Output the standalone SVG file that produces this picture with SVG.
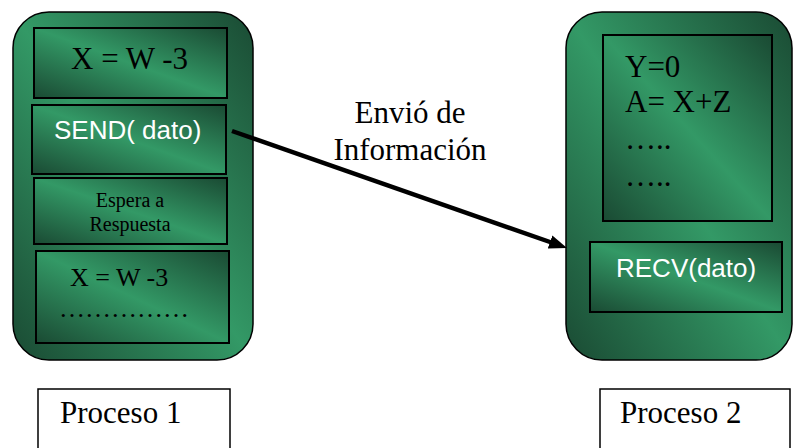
<svg xmlns="http://www.w3.org/2000/svg" width="793" height="448" viewBox="0 0 793 448">
  <defs>
    <!-- diagonal green shading: dark corners, light centre band -->
    <linearGradient id="green" x1="1" y1="0" x2="0" y2="1">
      <stop offset="0" stop-color="#1a4a33"/>
      <stop offset="0.5" stop-color="#339966"/>
      <stop offset="1" stop-color="#1a4a33"/>
    </linearGradient>
    <marker id="head" viewBox="0 0 18 14" refX="6" refY="7" markerWidth="18" markerHeight="14" markerUnits="userSpaceOnUse" orient="auto">
      <path d="M0,0 L18,7 L0,14 z" fill="#000"/>
    </marker>
    <style>
      .proc { fill: url(#green); stroke: #000; stroke-width: 1.5; }
      .step { fill: url(#green); stroke: #000; stroke-width: 2; }
      .label { fill: #fff; stroke: #000; stroke-width: 1.5; }
      .serif { font-family: "Liberation Serif", "Times New Roman", serif; fill: #000; }
      .sans { font-family: "Liberation Sans", Arial, sans-serif; fill: #fff; font-size: 26px; }
      .big { font-size: 31px; }
      .mid { font-size: 26px; }
      .small { font-size: 20px; }
    </style>
  </defs>

  <!-- Proceso 1 -->
  <g id="proceso1">
    <rect class="proc" x="13" y="12" width="240" height="348" rx="36" ry="36"/>
    <g id="p1-asignacion">
      <rect class="step" x="34" y="28" width="193" height="70"/>
      <text class="serif big" x="71" y="69">X = W -3</text>
    </g>
    <g id="p1-send">
      <rect class="step" x="32" y="105" width="194" height="69"/>
      <text class="sans" x="54" y="139">SEND( dato)</text>
    </g>
    <g id="p1-espera">
      <rect class="step" x="34" y="178" width="193" height="66"/>
      <text class="serif small" x="130" y="207" text-anchor="middle">Espera a</text>
      <text class="serif small" x="130" y="231" text-anchor="middle">Respuesta</text>
    </g>
    <g id="p1-resto">
      <rect class="step" x="36" y="251" width="193" height="92"/>
      <text class="serif mid" x="70" y="286">X = W -3</text>
      <text class="serif mid" x="59" y="317">……………</text>
    </g>
  </g>

  <!-- Proceso 2 -->
  <g id="proceso2">
    <rect class="proc" x="566" y="12" width="226" height="348" rx="36" ry="36"/>
    <g id="p2-calculo">
      <rect class="step" x="603" y="35" width="169" height="186"/>
      <text class="serif big" x="625" y="77">Y=0</text>
      <text class="serif big" x="625" y="112">A= X+Z</text>
      <text class="serif big" x="625" y="149">…..</text>
      <text class="serif big" x="625" y="186">…..</text>
    </g>
    <g id="p2-recv">
      <rect class="step" x="590" y="242" width="192" height="70"/>
      <text class="sans" x="616" y="277">RECV(dato)</text>
    </g>
  </g>

  <!-- captions -->
  <g id="caption1">
    <rect class="label" x="38" y="389" width="192" height="80"/>
    <text class="serif big" x="60" y="423">Proceso 1</text>
  </g>
  <g id="caption2">
    <rect class="label" x="600" y="389" width="190" height="80"/>
    <text class="serif big" x="620" y="423">Proceso 2</text>
  </g>

  <!-- message from SEND to RECV -->
  <g id="connectors">
    <line x1="232" y1="131" x2="555.7" y2="244" stroke="#000" stroke-width="4.5" marker-end="url(#head)"/>
    <text class="serif big" x="410" y="123" text-anchor="middle">Envió de</text>
    <text class="serif big" x="410" y="160" text-anchor="middle">Información</text>
  </g>
</svg>
